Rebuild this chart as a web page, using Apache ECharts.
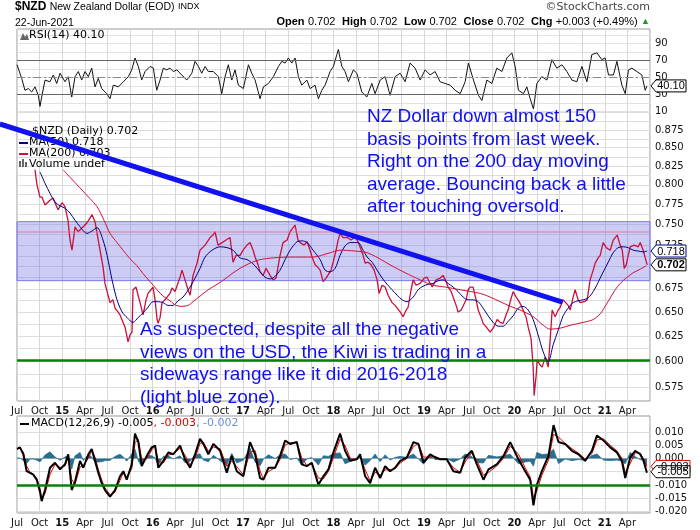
<!DOCTYPE html>
<html>
<head>
<meta charset="utf-8">
<script src="https://cdn.jsdelivr.net/npm/echarts@6/dist/echarts.min.js"></script>
<style>
  html, body { margin: 0; padding: 0; background: #fff; }
  #chart { width: 700px; height: 530px; }
</style>
</head>
<body>
<div id="chart"></div>
<script>
// ---- data (dates as decimal years) ----
const closeSeries = [
  [2014.699,.820],[2014.721,.800],[2014.754,.784],[2014.777,.784],[2014.810,.774],[2014.832,.772],[2014.865,.780],[2014.898,.783],
  [2014.931,.774],[2014.954,.768],[2014.998,.777],[2015.031,.772],[2015.064,.755],[2015.086,.731],[2015.108,.719],[2015.142,.747],
  [2015.175,.741],[2015.197,.743],[2015.241,.748],[2015.274,.752],[2015.308,.758],[2015.330,.762],[2015.363,.753],[2015.385,.752],
  [2015.418,.719],[2015.451,.700],[2015.473,.681],[2015.507,.668],[2015.529,.660],[2015.562,.663],[2015.584,.654],[2015.617,.650],
  [2015.639,.647],[2015.673,.639],[2015.695,.634],[2015.728,.619],[2015.750,.626],[2015.772,.629],[2015.783,.674],[2015.816,.677],
  [2015.839,.668],[2015.861,.660],[2015.894,.647],[2015.927,.663],[2015.949,.670],[2015.982,.674],[2016.004,.677],[2016.027,.663],
  [2016.049,.642],[2016.060,.638],[2016.082,.644],[2016.104,.660],[2016.137,.663],[2016.159,.666],[2016.192,.670],[2016.215,.676],
  [2016.248,.672],[2016.270,.670],[2016.303,.688],[2016.325,.696],[2016.358,.685],[2016.392,.674],[2016.414,.668],[2016.447,.690],
  [2016.491,.704],[2016.524,.719],[2016.580,.725],[2016.635,.734],[2016.668,.737],[2016.690,.741],[2016.723,.725],[2016.768,.728],
  [2016.812,.731],[2016.856,.734],[2016.889,.705],[2016.923,.713],[2016.967,.713],[2017.000,.719],[2017.044,.725],[2017.077,.728],
  [2017.111,.719],[2017.133,.711],[2017.166,.702],[2017.188,.694],[2017.221,.690],[2017.254,.698],[2017.299,.690],[2017.332,.685],
  [2017.365,.687],[2017.409,.713],[2017.442,.728],[2017.487,.731],[2017.520,.741],[2017.553,.746],[2017.575,.749],[2017.608,.731],
  [2017.631,.728],[2017.675,.725],[2017.708,.729],[2017.741,.719],[2017.763,.711],[2017.796,.702],[2017.819,.700],[2017.852,.696],
  [2017.885,.683],[2017.918,.687],[2017.940,.685],[2017.973,.696],[2017.996,.705],[2018.029,.719],[2018.051,.731],[2018.073,.739],
  [2018.106,.734],[2018.150,.734],[2018.195,.731],[2018.239,.735],[2018.272,.729],[2018.294,.728],[2018.327,.713],[2018.350,.704],
  [2018.383,.705],[2018.416,.702],[2018.449,.696],[2018.482,.685],[2018.504,.670],[2018.538,.679],[2018.571,.677],[2018.604,.668],
  [2018.648,.660],[2018.681,.657],[2018.704,.654],[2018.737,.650],[2018.770,.645],[2018.803,.652],[2018.825,.655],[2018.858,.674],
  [2018.881,.685],[2018.914,.679],[2018.958,.681],[2019.002,.687],[2019.035,.688],[2019.069,.681],[2019.091,.677],[2019.135,.685],
  [2019.179,.687],[2019.212,.690],[2019.246,.683],[2019.268,.677],[2019.301,.672],[2019.323,.670],[2019.356,.657],[2019.378,.650],
  [2019.412,.652],[2019.434,.650],[2019.467,.663],[2019.489,.674],[2019.511,.677],[2019.544,.677],[2019.577,.663],[2019.600,.652],
  [2019.633,.644],[2019.655,.638],[2019.699,.633],[2019.732,.629],[2019.766,.633],[2019.810,.642],[2019.843,.639],[2019.876,.638],
  [2019.909,.647],[2019.931,.652],[2019.965,.665],[2019.987,.672],[2020.020,.666],[2020.042,.663],[2020.075,.657],[2020.097,.652],
  [2020.131,.644],[2020.153,.634],[2020.175,.626],[2020.186,.621],[2020.208,.594],[2020.219,.567],[2020.241,.586],[2020.252,.601],
  [2020.285,.596],[2020.308,.594],[2020.341,.604],[2020.374,.594],[2020.396,.621],[2020.418,.652],[2020.451,.645],[2020.485,.652],
  [2020.507,.655],[2020.540,.663],[2020.562,.665],[2020.595,.657],[2020.617,.652],[2020.650,.666],[2020.672,.674],[2020.706,.663],
  [2020.728,.660],[2020.772,.661],[2020.805,.663],[2020.838,.685],[2020.872,.696],[2020.894,.704],[2020.927,.710],[2020.949,.713],
  [2020.982,.728],[2021.016,.722],[2021.060,.719],[2021.093,.731],[2021.137,.737],[2021.170,.725],[2021.193,.719],[2021.215,.698],
  [2021.237,.702],[2021.259,.713],[2021.281,.723],[2021.325,.725],[2021.370,.723],[2021.392,.728],[2021.425,.719],[2021.447,.710],
  [2021.469,.702]
];

const ma50Series = [
  [2014.754,.817],[2014.810,.802],[2014.865,.789],[2014.920,.778],[2014.976,.773],[2015.031,.770],[2015.086,.764],[2015.142,.755],
  [2015.197,.747],[2015.274,.739],[2015.330,.742],[2015.385,.746],[2015.451,.731],[2015.496,.713],[2015.551,.685],[2015.606,.663],
  [2015.662,.650],[2015.717,.644],[2015.783,.639],[2015.839,.644],[2015.894,.649],[2015.949,.655],[2016.004,.661],[2016.060,.661],
  [2016.115,.660],[2016.170,.657],[2016.226,.657],[2016.281,.662],[2016.336,.666],[2016.414,.677],[2016.469,.687],[2016.524,.698],
  [2016.580,.711],[2016.657,.719],[2016.746,.723],[2016.823,.722],[2016.889,.719],[2016.967,.710],[2017.044,.708],[2017.122,.702],
  [2017.188,.694],[2017.243,.688],[2017.299,.686],[2017.354,.689],[2017.409,.696],[2017.465,.708],[2017.520,.719],[2017.597,.729],
  [2017.653,.730],[2017.708,.728],[2017.774,.719],[2017.852,.708],[2017.907,.696],[2017.962,.694],[2018.018,.698],[2018.073,.713],
  [2018.128,.724],[2018.184,.728],[2018.272,.728],[2018.327,.719],[2018.372,.711],[2018.427,.705],[2018.482,.696],[2018.538,.687],
  [2018.593,.680],[2018.648,.674],[2018.704,.668],[2018.759,.663],[2018.814,.661],[2018.881,.666],[2018.936,.674],[2018.991,.678],
  [2019.047,.680],[2019.102,.681],[2019.157,.684],[2019.212,.685],[2019.268,.681],[2019.323,.677],[2019.378,.672],[2019.434,.666],
  [2019.489,.663],[2019.544,.663],[2019.600,.661],[2019.655,.654],[2019.710,.646],[2019.766,.639],[2019.821,.635],[2019.876,.635],
  [2019.931,.640],[2019.987,.646],[2020.042,.654],[2020.097,.656],[2020.153,.652],[2020.208,.642],[2020.263,.626],[2020.319,.609],
  [2020.374,.599],[2020.429,.616],[2020.485,.631],[2020.540,.646],[2020.595,.654],[2020.650,.660],[2020.706,.662],[2020.761,.663],
  [2020.816,.665],[2020.872,.672],[2020.916,.680],[2020.949,.687],[2020.993,.696],[2021.038,.705],[2021.093,.716],[2021.148,.722],
  [2021.204,.723],[2021.259,.722],[2021.314,.719],[2021.370,.718],[2021.425,.717],[2021.469,.718]
];

const ma200Series = [
  [2015.009,.820],[2015.086,.810],[2015.197,.796],[2015.308,.782],[2015.385,.772],[2015.462,.755],[2015.529,.739],[2015.606,.728],
  [2015.673,.719],[2015.750,.709],[2015.827,.701],[2015.894,.692],[2015.971,.683],[2016.049,.674],[2016.115,.667],[2016.192,.662],
  [2016.259,.657],[2016.325,.656],[2016.392,.657],[2016.447,.661],[2016.524,.667],[2016.613,.674],[2016.712,.680],[2016.801,.686],
  [2016.878,.692],[2016.967,.698],[2017.077,.704],[2017.188,.708],[2017.332,.710],[2017.520,.711],[2017.774,.711],[2017.962,.716],
  [2018.073,.719],[2018.239,.718],[2018.372,.716],[2018.493,.710],[2018.626,.702],[2018.792,.693],[2018.958,.685],[2019.102,.679],
  [2019.235,.677],[2019.401,.674],[2019.622,.670],[2019.732,.666],[2019.843,.661],[2019.954,.656],[2020.064,.652],[2020.208,.645],
  [2020.319,.636],[2020.396,.632],[2020.507,.633],[2020.617,.636],[2020.761,.639],[2020.872,.642],[2020.949,.648],[2021.004,.656],
  [2021.060,.665],[2021.115,.674],[2021.170,.681],[2021.248,.688],[2021.314,.693],[2021.392,.697],[2021.458,.701]
];

const rsiSeries = [
  [2014.500,65],[2014.514,63],[2014.552,49],[2014.588,35],[2014.625,37],[2014.663,33],[2014.699,39],[2014.736,29],[2014.754,16],
  [2014.773,27],[2014.810,47],[2014.865,45],[2014.902,53],[2014.939,43],[2014.976,55],[2015.031,45],[2015.067,51],[2015.105,27],
  [2015.142,51],[2015.178,57],[2015.216,47],[2015.252,57],[2015.289,51],[2015.326,61],[2015.363,39],[2015.399,49],[2015.437,37],
  [2015.492,31],[2015.529,25],[2015.565,41],[2015.621,39],[2015.676,45],[2015.731,51],[2015.769,59],[2015.805,73],[2015.842,63],
  [2015.879,47],[2015.916,57],[2015.971,63],[2016.008,61],[2016.045,35],[2016.082,47],[2016.118,61],[2016.156,59],[2016.192,61],
  [2016.229,57],[2016.267,59],[2016.322,53],[2016.377,47],[2016.433,55],[2016.469,69],[2016.506,63],[2016.543,55],[2016.580,63],
  [2016.616,57],[2016.672,57],[2016.727,51],[2016.764,31],[2016.801,51],[2016.837,65],[2016.875,47],[2016.911,59],[2016.948,41],
  [2017.003,37],[2017.059,65],[2017.096,55],[2017.133,47],[2017.188,25],[2017.225,39],[2017.280,43],[2017.335,51],[2017.391,63],
  [2017.428,69],[2017.465,67],[2017.501,73],[2017.539,67],[2017.575,73],[2017.612,51],[2017.649,41],[2017.705,47],[2017.741,37],
  [2017.796,41],[2017.833,25],[2017.871,35],[2017.907,41],[2017.962,57],[2017.999,63],[2018.037,77],[2018.054,83],[2018.092,63],
  [2018.128,57],[2018.165,45],[2018.184,47],[2018.220,59],[2018.258,55],[2018.313,33],[2018.368,27],[2018.424,43],[2018.460,31],
  [2018.516,47],[2018.571,51],[2018.626,29],[2018.681,51],[2018.737,55],[2018.792,45],[2018.847,67],[2018.903,61],[2018.958,47],
  [2019.013,59],[2019.069,53],[2019.124,57],[2019.179,45],[2019.234,43],[2019.290,41],[2019.345,35],[2019.401,31],[2019.456,45],
  [2019.492,67],[2019.548,47],[2019.603,29],[2019.641,23],[2019.696,47],[2019.751,43],[2019.806,61],[2019.862,57],[2019.917,73],
  [2019.972,79],[2020.009,63],[2020.045,35],[2020.101,31],[2020.138,39],[2020.175,25],[2020.211,13],[2020.249,43],[2020.304,51],
  [2020.360,47],[2020.415,71],[2020.470,61],[2020.526,65],[2020.581,57],[2020.636,47],[2020.691,45],[2020.747,63],[2020.802,45],
  [2020.857,77],[2020.913,79],[2020.968,71],[2021.004,73],[2021.041,53],[2021.096,53],[2021.134,69],[2021.189,41],[2021.226,31],
  [2021.262,59],[2021.300,61],[2021.355,57],[2021.410,53],[2021.447,35],[2021.466,40.1]
];

const macdDates = [
  2014.500,2014.533,2014.570,2014.607,2014.644,2014.680,2014.718,2014.754,2014.773,2014.810,2014.865,2014.920,2014.976,2015.031,
  2015.067,2015.105,2015.142,2015.197,2015.233,2015.289,2015.326,2015.363,2015.399,2015.437,2015.473,2015.529,2015.584,2015.639,
  2015.676,2015.713,2015.769,2015.805,2015.842,2015.879,2015.935,2015.990,2016.027,2016.063,2016.118,2016.174,2016.229,2016.303,
  2016.358,2016.414,2016.469,2016.524,2016.561,2016.616,2016.672,2016.746,2016.820,2016.875,2016.930,2017.003,2017.077,2017.133,
  2017.188,2017.225,2017.280,2017.354,2017.409,2017.465,2017.520,2017.594,2017.649,2017.705,2017.760,2017.833,2017.888,2017.944,
  2017.999,2018.073,2018.128,2018.184,2018.258,2018.294,2018.350,2018.405,2018.460,2018.516,2018.571,2018.626,2018.681,2018.737,
  2018.811,2018.884,2018.939,2018.995,2019.069,2019.124,2019.179,2019.253,2019.326,2019.401,2019.456,2019.530,2019.585,2019.658,
  2019.714,2019.806,2019.880,2019.954,2020.045,2020.120,2020.175,2020.211,2020.249,2020.304,2020.377,2020.433,2020.488,2020.562,
  2020.636,2020.709,2020.783,2020.857,2020.913,2020.986,2021.060,2021.134,2021.189,2021.226,2021.281,2021.336,2021.392,2021.429,
  2021.466
];
const macdLine = [
  .0036,.0042,.0016,-.0048,-.0054,-.0061,-.0080,-.0125,-.0161,-.0119,-.0035,-.0016,-.0041,-.0022,
  .0016,-.0119,-.0087,-.0009,-.0035,.0016,.0036,-.0009,-.0054,-.0093,-.0119,-.0144,-.0119,-.0067,
  -.0048,-.0080,-.0022,.0094,.0062,-.0029,.0010,.0042,.0049,-.0035,-.0009,.0023,.0016,.0049,
  -.0003,-.0035,.0016,.0074,.0055,.0016,.0055,.0029,-.0054,.0010,-.0048,-.0067,.0062,.0016,
  -.0074,-.0080,-.0035,-.0035,.0010,.0068,.0055,.0062,-.0022,-.0029,-.0016,-.0099,-.0067,-.0041,
  .0023,.0094,.0029,-.0009,-.0003,.0016,-.0067,-.0093,-.0035,-.0074,-.0029,-.0048,-.0035,-.0009,
  .0004,.0062,.0055,-.0016,.0016,.0004,-.0003,-.0003,-.0048,-.0054,.0004,.0029,-.0022,-.0080,
  -.0041,-.0022,.0010,.0062,-.0003,-.0048,-.0080,-.0177,-.0099,-.0048,.0010,.0126,.0062,.0055,
  .0029,.0016,-.0009,.0029,.0087,.0068,.0042,.0023,-.0009,-.0074,.0004,.0029,.0016,-.0009,
  -.0054
];
const signalLine = [
  .0034,.0040,.0024,-.0029,-.0052,-.0059,-.0074,-.0112,-.0150,-.0132,-.0060,-.0022,-.0034,-.0028,
  .0005,-.0079,-.0097,-.0032,-.0027,.0001,.0030,.0005,-.0041,-.0081,-.0111,-.0137,-.0127,-.0083,
  -.0054,-.0070,-.0039,.0059,.0072,-.0002,-.0002,.0032,.0047,-.0010,-.0017,.0013,.0018,.0039,
  .0013,-.0025,.0001,.0057,.0061,.0028,.0043,.0037,-.0029,-.0009,-.0031,-.0061,.0023,.0030,
  -.0047,-.0078,-.0049,-.0035,-.0004,.0051,.0059,.0060,.0003,-.0027,-.0020,-.0074,-.0077,-.0049,
  .0004,.0073,.0049,.0002,-.0005,.0010,-.0042,-.0085,-.0052,-.0062,-.0043,-.0042,-.0039,-.0017,
  .0000,.0045,.0057,.0005,.0006,.0008,-.0001,-.0003,-.0035,-.0052,-.0013,.0022,-.0007,-.0063,
  -.0053,-.0028,.0000,.0046,.0017,-.0035,-.0070,-.0148,-.0122,-.0063,-.0007,.0091,.0081,.0057,
  .0037,.0020,-.0002,.0018,.0070,.0074,.0050,.0029,.0001,-.0054,-.0019,.0022,.0020,-.0002,
  -.0030
];
const histogram = [
  .0002,.0002,-.0008,-.0019,-.0002,-.0002,-.0006,-.0013,-.0011,.0013,.0025,.0006,-.0007,.0006,
  .0011,-.0040,.0010,.0023,-.0008,.0015,.0006,-.0014,-.0013,-.0012,-.0008,-.0007,.0008,.0016,
  .0006,-.0010,.0017,.0035,-.0010,-.0027,.0012,.0010,.0002,-.0025,.0008,.0010,-.0002,.0010,
  -.0016,-.0010,.0015,.0017,-.0006,-.0012,.0012,-.0008,-.0025,.0019,-.0017,-.0006,.0039,-.0014,
  -.0027,-.0002,.0014,.0000,.0014,.0017,-.0004,.0002,-.0025,-.0002,.0004,-.0025,.0010,.0008,
  .0019,.0021,-.0020,-.0011,.0002,.0006,-.0025,-.0008,.0017,-.0012,.0014,-.0006,.0004,.0008,
  .0004,.0017,-.0002,-.0021,.0010,-.0004,-.0002,.0000,-.0013,-.0002,.0017,.0007,-.0015,-.0017,
  .0012,.0006,.0010,.0016,-.0020,-.0013,-.0010,-.0029,.0023,.0015,.0017,.0035,-.0019,-.0002,
  -.0008,-.0004,-.0007,.0011,.0017,-.0006,-.0008,-.0006,-.0010,-.0020,.0023,.0007,-.0004,-.0007,
  -.0024
];

// tick labels and reference levels
const priceTicks = [0.575, 0.600, 0.625, 0.650, 0.675, 0.700, 0.725, 0.750, 0.775, 0.800, 0.825, 0.850, 0.875];
const priceGrid = [0.575, 0.5875, 0.600, 0.6125, 0.625, 0.6375, 0.650, 0.6625, 0.675, 0.6875, 0.700, 0.7125, 0.725,
  0.7375, 0.750, 0.7625, 0.775, 0.7875, 0.800, 0.8125, 0.825, 0.8375, 0.850, 0.8625, 0.875, 0.8875, 0.900];
const rsiTicks = [10, 30, 50, 70, 90];
const rsiGrid = [10, 20, 30, 40, 50, 60, 70, 80, 90, 100];
const macdTicks = [-0.020, -0.015, -0.010, -0.005, 0, 0.005, 0.010];
const sidewaysZone = [0.6841, 0.7533];
const supportLevel = 0.600;
const pinkLevel = 0.740;
const macdSupport = -0.010;
const trendLine = [[2014.31, 0.8836], [2020.533, 0.6606]];
const lastClose = 0.702, lastMa50 = 0.718, lastRsi = 40.10, lastMacd = -0.005, lastSignal = -0.003;

const chart = echarts.init(document.getElementById('chart'));
const ln = Math.log;
const AX_FONT = '"DejaVu Sans", Verdana, sans-serif';
const TXT_FONT = '"Liberation Sans", Arial, sans-serif';

function quarterLabel(v) {
  if (v > 2021.4) return '';
  const yr = Math.floor(v + 1e-6);
  const q = Math.round((v - yr) * 4);
  if (q === 0) return '{b|' + String(yr).slice(2) + '}';
  return ['', 'Apr', 'Jul', 'Oct'][q];
}

function xAxisFor(gridIndex, showLabels) {
  return {
    type: 'value', gridIndex, min: 2014.5, max: 2021.5, interval: 0.25,
    axisLine: { show: false }, axisTick: { show: false },
    axisLabel: {
      show: showLabels, formatter: quarterLabel, color: '#111', fontSize: 10, fontFamily: AX_FONT, margin: 5,
      rich: { b: { fontWeight: 'bold', fontSize: 10, fontFamily: AX_FONT, color: '#111' } }
    },
    splitLine: { show: true, lineStyle: { color: '#d6d6d6', width: 1 } }
  };
}

const yLabel = { color: '#111', fontSize: 10, fontFamily: AX_FONT, margin: 5, showMinLabel: true, showMaxLabel: true };

const staticGraphic = [
  { type: 'text', left: 15, top: 1, z: 50, style: {
    text: '{a|$NZD} {b|New Zealand Dollar (EOD)} {c|INDX}',
    rich: {
      a: { font: 'bold 12px ' + TXT_FONT, fill: '#000' },
      b: { font: '10.5px ' + TXT_FONT, fill: '#000' },
      c: { font: '9px ' + TXT_FONT, fill: '#000' }
    } } },
  { type: 'text', left: 15, top: 18, z: 50, style: { text: '22-Jun-2021', font: '10.5px ' + TXT_FONT, fill: '#000' } },
  { type: 'text', right: 50, top: 2, z: 50, style: { text: '\u00a9StockCharts.com', font: '11px ' + AX_FONT, fill: '#444' } },
  { type: 'text', right: 50, top: 16, z: 50, style: {
    text: '{k|Open} {v|0.702}  {k|High} {v|0.702}  {k|Low} {v|0.702}  {k|Close} {v|0.702}  {k|Chg} {v|+0.003 (+0.49%)} {g|\u25b2}',
    rich: {
      k: { font: 'bold 11px ' + TXT_FONT, fill: '#000' },
      v: { font: '11px ' + TXT_FONT, fill: '#000' },
      g: { font: '9px ' + TXT_FONT, fill: '#1a9a1a' }
    } } },
  // panel legends
  { type: 'text', left: 29, top: 30, z: 50, style: { text: 'RSI(14) 40.10', font: '11px ' + AX_FONT, fill: '#000' } },
  { type: 'polygon', z: 50, shape: { points: [[20, 40], [23, 33], [25, 37], [27, 34], [29, 40]] }, style: { fill: '#666' } },
  { type: 'text', left: 32, top: 126, z: 10, style: { text: '$NZD (Daily) 0.702', font: '11px ' + AX_FONT, fill: '#000' } },
  { type: 'rect', z: 10, shape: { x: 19, y: 142, width: 9, height: 2 }, style: { fill: '#00008b' } },
  { type: 'text', left: 29, top: 137, z: 10, style: { text: 'MA(50) 0.718', font: '11px ' + AX_FONT, fill: '#000' } },
  { type: 'rect', z: 10, shape: { x: 19, y: 153, width: 9, height: 2 }, style: { fill: '#d0103a' } },
  { type: 'text', left: 29, top: 148, z: 10, style: { text: 'MA(200) 0.703', font: '11px ' + AX_FONT, fill: '#000' } },
  { type: 'rect', z: 10, shape: { x: 19, y: 161, width: 2, height: 6 }, style: { fill: '#666' } },
  { type: 'rect', z: 10, shape: { x: 22, y: 159, width: 2, height: 8 }, style: { fill: '#666' } },
  { type: 'rect', z: 10, shape: { x: 25, y: 162, width: 2, height: 5 }, style: { fill: '#666' } },
  { type: 'text', left: 29, top: 159, z: 10, style: { text: 'Volume undef', font: '11px ' + AX_FONT, fill: '#000' } },
  { type: 'rect', z: 50, shape: { x: 20, y: 423, width: 9, height: 2 }, style: { fill: '#000' } },
  { type: 'text', left: 31, top: 418, z: 50, style: {
    text: '{a|MACD(12,26,9) -0.005}{r|, -0.003}{b|, -0.002}',
    rich: {
      a: { font: '11px ' + AX_FONT, fill: '#000' },
      r: { font: '11px ' + AX_FONT, fill: '#e00000' },
      b: { font: '11px ' + AX_FONT, fill: '#6b8fd0' }
    } } },
  // annotations
  { type: 'text', left: 367, top: 106, z: 60, style: {
    text: 'NZ Dollar down almost 150\nbasis points from last week.\nRight on the 200 day moving\naverage. Bouncing back a little\nafter touching oversold.',
    font: '19px ' + TXT_FONT, fill: '#1010ee', lineHeight: 22.4 } },
  { type: 'text', left: 140, top: 319, z: 60, style: {
    text: 'As suspected, despite all the negative\nviews on the USD, the Kiwi is trading in a\nsideways range like it did 2016-2018\n(light blue zone).',
    font: '19px ' + TXT_FONT, fill: '#1010ee', lineHeight: 22.4 } }
];

const option = {
  animation: false,
  backgroundColor: '#fff',
  grid: [
    { left: 17, right: 50, top: 29, height: 83, show: true, borderColor: '#999', backgroundColor: 'transparent' },
    { left: 17, right: 50, top: 112, height: 289, show: true, borderColor: '#999', backgroundColor: 'transparent' },
    { left: 17, right: 50, top: 416, height: 97, show: true, borderColor: '#999', backgroundColor: 'transparent' }
  ],
  xAxis: [xAxisFor(0, false), xAxisFor(1, true), xAxisFor(2, true)],
  yAxis: [
    {
      type: 'value', gridIndex: 0, position: 'right', min: 9.4, max: 107.1,
      axisLine: { show: false }, axisTick: { show: false, customValues: rsiGrid },
      axisLabel: Object.assign({ customValues: rsiTicks }, yLabel),
      splitLine: { lineStyle: { color: '#e2e2e2' } }
    },
    {
      type: 'value', gridIndex: 1, position: 'right', min: ln(0.562), max: ln(0.9011),
      axisLine: { show: false }, axisTick: { show: false, customValues: priceGrid.map(ln) },
      axisLabel: Object.assign({ customValues: priceTicks.map(ln), formatter: v => Math.exp(v).toFixed(3) }, yLabel),
      splitLine: { lineStyle: { color: '#dcdcdc' } }
    },
    {
      type: 'value', gridIndex: 2, position: 'right', min: -0.02057, max: 0.01604,
      axisLine: { show: false }, axisTick: { show: false, customValues: macdTicks },
      axisLabel: Object.assign({ customValues: macdTicks, formatter: v => v.toFixed(3) }, yLabel),
      splitLine: { lineStyle: { color: '#dcdcdc' } }
    }
  ],
  series: [
    {
      name: 'RSI', type: 'line', xAxisIndex: 0, yAxisIndex: 0, data: rsiSeries,
      showSymbol: false, lineStyle: { color: '#111', width: 1 },
      markLine: {
        silent: true, symbol: 'none', label: { show: false },
        data: [
          { yAxis: 70, lineStyle: { color: '#666', width: 1, type: 'solid' } },
          { yAxis: 30, lineStyle: { color: '#666', width: 1, type: 'solid' } },
          { yAxis: 50, lineStyle: { color: '#888', width: 1, type: [8, 3, 2, 3] } }
        ]
      }
    },
    {
      name: '$NZD', type: 'line', xAxisIndex: 1, yAxisIndex: 1, z: 4,
      data: closeSeries.map(d => [d[0], ln(d[1])]),
      showSymbol: false, lineStyle: { color: '#c8103c', width: 1.3 },
      markArea: {
        silent: true,
        itemStyle: { color: 'rgba(120,120,230,0.38)', borderColor: '#7a7aee', borderWidth: 1 },
        data: [[{ yAxis: ln(sidewaysZone[1]) }, { yAxis: ln(sidewaysZone[0]) }]]
      },
      markLine: {
        silent: true, symbol: 'none', label: { show: false },
        data: [
          { yAxis: ln(supportLevel), lineStyle: { color: '#0a800a', width: 2.5, type: 'solid' } },
          { yAxis: ln(pinkLevel), lineStyle: { color: 'rgba(225,110,140,0.6)', width: 1.5, type: 'solid' } }
        ]
      }
    },
    {
      name: 'MA(50)', type: 'line', xAxisIndex: 1, yAxisIndex: 1, z: 5,
      data: ma50Series.map(d => [d[0], ln(d[1])]),
      showSymbol: false, smooth: 0.3, lineStyle: { color: '#00008b', width: 1 }
    },
    {
      name: 'MA(200)', type: 'line', xAxisIndex: 1, yAxisIndex: 1, z: 5,
      data: ma200Series.map(d => [d[0], ln(d[1])]),
      showSymbol: false, smooth: 0.3, lineStyle: { color: '#d0103a', width: 1 }
    },
    {
      name: 'Histogram', type: 'line', xAxisIndex: 2, yAxisIndex: 2,
      data: macdDates.map((d, i) => [d, histogram[i]]),
      showSymbol: false, lineStyle: { color: '#2a6f8e', width: 0.8 },
      areaStyle: { color: '#2a6f8e', opacity: 1 },
      markLine: {
        silent: true, symbol: 'none', label: { show: false },
        data: [{ yAxis: macdSupport, lineStyle: { color: '#0a800a', width: 2.5, type: 'solid' } }]
      }
    },
    {
      name: 'Signal', type: 'line', xAxisIndex: 2, yAxisIndex: 2,
      data: macdDates.map((d, i) => [d, signalLine[i]]),
      showSymbol: false, lineStyle: { color: '#ee0000', width: 1 }
    },
    {
      name: 'MACD', type: 'line', xAxisIndex: 2, yAxisIndex: 2,
      data: macdDates.map((d, i) => [d, macdLine[i]]),
      showSymbol: false, lineStyle: { color: '#000', width: 2 }
    }
  ],
  graphic: staticGraphic
};

chart.setOption(option);

// elements placed through the chart's own axis scales
const xEdge = chart.convertToPixel({ xAxisIndex: 1 }, 2021.5);
function valueTag(yAxisIndex, value, text, color, bold, w) {
  const y = chart.convertToPixel({ yAxisIndex }, value);
  const x = xEdge + 1;
  return [
    { type: 'polygon', z: 70, shape: { points: [[x, y], [x + 5, y - 6], [x + 5 + w, y - 6], [x + 5 + w, y + 6], [x + 5, y + 6]] },
      style: { fill: '#fff', stroke: color, lineWidth: 1 } },
    { type: 'text', z: 71, x: x + 5 + w / 2, y: y + 0.5,
      style: { text, font: (bold ? 'bold ' : '') + '11px ' + TXT_FONT, fill: '#000', align: 'center', verticalAlign: 'middle' } }
  ];
}
const p1 = chart.convertToPixel({ xAxisIndex: 1, yAxisIndex: 1 }, [trendLine[0][0], ln(trendLine[0][1])]);
const p2 = chart.convertToPixel({ xAxisIndex: 1, yAxisIndex: 1 }, [trendLine[1][0], ln(trendLine[1][1])]);
const dynamicGraphic = [
  { type: 'line', z: 20, shape: { x1: p1[0], y1: p1[1], x2: p2[0], y2: p2[1] }, style: { stroke: '#1212f0', lineWidth: 5 } }
].concat(
  valueTag(0, lastRsi, lastRsi.toFixed(2), '#000', false, 30),
  valueTag(1, ln(lastMa50), lastMa50.toFixed(3), '#000080', false, 30),
  valueTag(1, ln(lastClose), lastClose.toFixed(3), '#000', true, 30),
  valueTag(2, lastSignal, lastSignal.toFixed(3), '#e00000', false, 34),
  valueTag(2, lastMacd, lastMacd.toFixed(3), '#000', false, 34)
);
chart.setOption({ graphic: staticGraphic.concat(dynamicGraphic) });
</script>
</body>
</html>
